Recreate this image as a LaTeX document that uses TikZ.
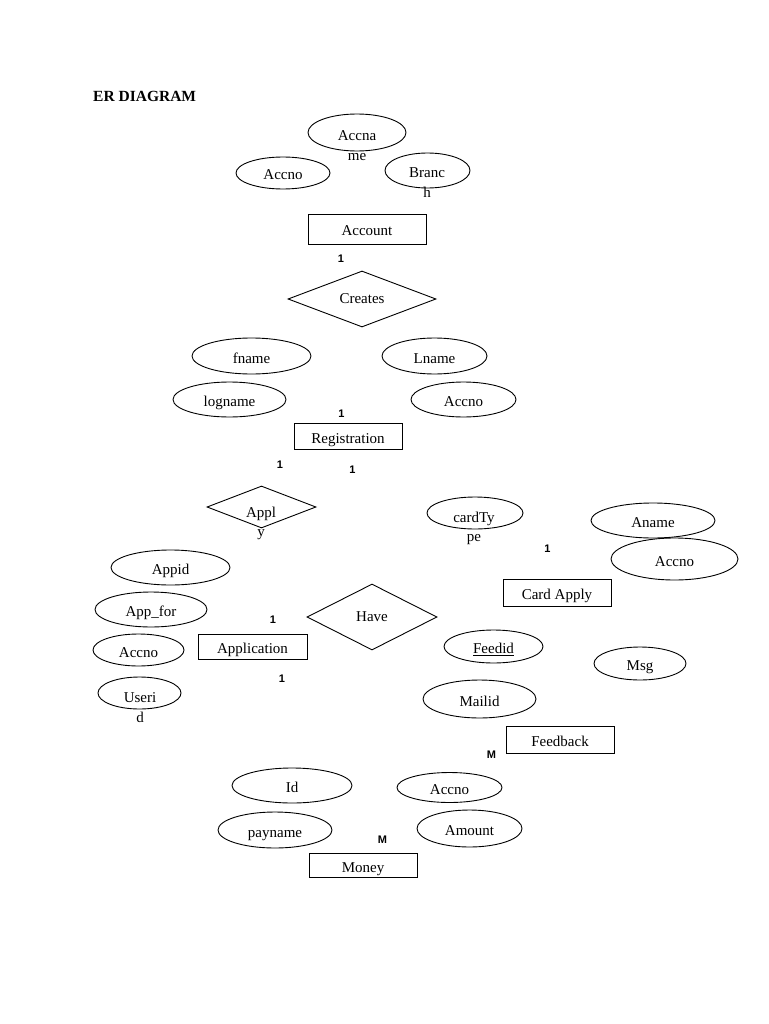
\documentclass[tikz,border=0pt]{standalone}
\usepackage{fontspec}
\setmainfont{Liberation Serif}
\newfontfamily\cardfont{Liberation Sans}
\usetikzlibrary{shapes.geometric}
\begin{document}
\begin{tikzpicture}[x=1pt,y=-1pt,
  base/.style={line width=0.9pt, inner sep=0pt, font=\fontsize{15}{19.5}\selectfont},
  attr/.style={base, draw, ellipse, text height=14pt, text depth=0pt},
  ent/.style={base, draw, rectangle, minimum width=108, minimum height=26, text height=14pt, text depth=0pt},
  rel/.style={base, draw, diamond},
  splitlbl/.style={base, align=center, anchor=north},
  card/.style={inner sep=0pt, font=\cardfont\bfseries\fontsize{11}{13}\selectfont},
  title/.style={inner sep=0pt, anchor=west, font=\bfseries\fontsize{15.5}{18}\selectfont}]
\useasboundingbox (0,0) rectangle (768,1024);

\node[title] (ttl) at (93,96) {ER DIAGRAM};

% Account
\node[attr, minimum width=98, minimum height=37] (accname) at (357,132.5) {};
\node[splitlbl] (accnameT) at (357,130.5) {Accna\\me};
\node[attr, minimum width=94, minimum height=32] (accno1) at (283,173) {Accno};
\node[attr, minimum width=85, minimum height=35] (branch) at (427.5,170.5) {};
\node[splitlbl] (branchT) at (427,167.5) {Branc\\h};
\node[ent, minimum width=118, minimum height=30] (account) at (367,229) {Account};
\node[card] (c1) at (341,259) {1};
\node[rel, minimum width=148, minimum height=56] (creates) at (362,299) {Creates};

% Registration
\node[attr, minimum width=119, minimum height=36] (fname) at (251.5,356) {fname};
\node[attr, minimum width=105, minimum height=36] (lname) at (434.5,356) {Lname};
\node[attr, minimum width=113, minimum height=35] (logname) at (229.5,399.5) {logname};
\node[attr, minimum width=105, minimum height=35] (accno2) at (463.5,399.5) {Accno};
\node[card] (c2) at (341.5,414) {1};
\node[ent, minimum width=108, minimum height=26] (registration) at (348,436) {Registration};
\node[card] (c3) at (280,465) {1};
\node[card] (c4) at (352.5,470) {1};

% Apply / Card Apply
\node[rel, minimum width=109, minimum height=42] (apply) at (261.5,507) {};
\node[splitlbl] (applyT) at (261,506.5) {Appl\\y};
\node[attr, minimum width=96, minimum height=32] (cardtype) at (475,513) {};
\node[splitlbl] (cardtypeT) at (474,511.5) {cardTy\\pe};
\node[attr, minimum width=124, minimum height=35] (aname) at (653,520.5) {Aname};
\node[attr, minimum width=127, minimum height=42] (accno3) at (674.5,559) {Accno};
\node[card] (c5) at (547.5,549) {1};
\node[ent, minimum width=108, minimum height=27] (cardapply) at (557,592.5) {Card Apply};

% Application
\node[attr, minimum width=119, minimum height=35] (appid) at (170.5,567.5) {Appid};
\node[attr, minimum width=112, minimum height=35] (appfor) at (151,609.5) {App\_for};
\node[attr, minimum width=91, minimum height=32] (accno4) at (138.5,650) {Accno};
\node[attr, minimum width=83, minimum height=32] (userid) at (139.5,693) {};
\node[splitlbl] (useridT) at (140,692.5) {Useri\\d};
\node[card] (c6) at (273,620) {1};
\node[ent, minimum width=109, minimum height=25] (application) at (252.5,646.5) {Application};
\node[card] (c7) at (282,679) {1};
\node[rel, minimum width=130, minimum height=66] (have) at (372,617) {Have};

% Feedback
\node[attr, minimum width=99, minimum height=33] (feedid) at (493.5,646.5) {\underline{Feedid}};
\node[attr, minimum width=92, minimum height=33] (msg) at (640,663.5) {Msg};
\node[attr, minimum width=113, minimum height=38] (mailid) at (479.5,699) {Mailid};
\node[ent, minimum width=108, minimum height=27] (feedback) at (560,739.5) {Feedback};
\node[card] (c8) at (491.5,754.5) {M};

% Money
\node[attr, minimum width=120, minimum height=35] (id) at (292,785.5) {Id};
\node[attr, minimum width=105, minimum height=30] (accno5) at (449.5,787.5) {Accno};
\node[attr, minimum width=114, minimum height=36] (payname) at (275,830) {payname};
\node[attr, minimum width=105, minimum height=37] (amount) at (469.5,828.5) {Amount};
\node[card] (c9) at (382.5,839.5) {M};
\node[ent, minimum width=108, minimum height=24] (money) at (363,865) {Money};
\end{tikzpicture}
\end{document}
